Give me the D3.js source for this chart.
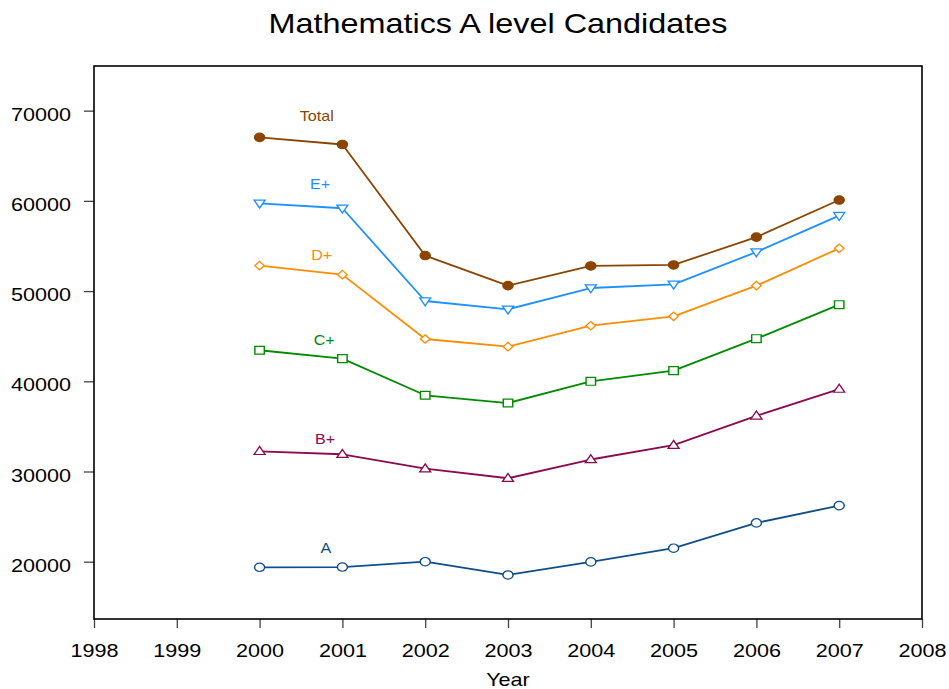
<!DOCTYPE html>
<html>
<head>
<meta charset="utf-8">
<script src="https://cdn.jsdelivr.net/npm/d3@7"></script>
<style>
  html, body { margin: 0; padding: 0; background: #fff; }
  svg { display: block; font-family: "Liberation Sans", Arial, sans-serif; }
</style>
</head>
<body>
<svg id="chart" width="949" height="689"></svg>
<script>
// ---- data ----
const years = [2000, 2001, 2002, 2003, 2004, 2005, 2006, 2007];
const seriesNames = ["Total", "E+", "D+", "C+", "B+", "A"];
const totalValues = [67036, 66247, 53940, 50602, 52788, 52897, 55982, 60093];
const ePlusValues = [59730, 59180, 48900, 47980, 50340, 50750, 54330, 58360];
const dPlusValues = [52820, 51820, 44690, 43840, 46160, 47200, 50600, 54740];
const cPlusValues = [43440, 42510, 38450, 37590, 40000, 41180, 44720, 48490];
const bPlusValues = [32240, 31910, 30310, 29250, 31330, 32920, 36170, 39140];
const aValues     = [19380, 19410, 20000, 18530, 19980, 21500, 24300, 26220];
const xTicks = [1998, 1999, 2000, 2001, 2002, 2003, 2004, 2005, 2006, 2007, 2008];
const yTicks = [20000, 30000, 40000, 50000, 60000, 70000];
// label anchors (year, value) for the series names
const labelYears  = [2000.69, 2000.73, 2000.75, 2000.78, 2000.79, 2000.80];
const labelValues = [68820, 61280, 53450, 43990, 33050, 21000];

// ---- styles ----
const colors = ["#8B4500", "#1E90FF", "#FF8C00", "#008B00", "#8B0A50", "#104E8B"];
const symbols = ["filledCircle", "triDown", "diamond", "square", "triUp", "circle"];
const SX = 1.2; // horizontal stretch of the original rendering

const series = seriesNames.map((name, i) => ({
  name,
  values: [totalValues, ePlusValues, dPlusValues, cPlusValues, bPlusValues, aValues][i],
  color: colors[i],
  symbol: symbols[i],
  labelYear: labelYears[i],
  labelValue: labelValues[i]
}));

const svg = d3.select("#chart");
const plotLeft = 94, plotRight = 922, plotTop = 66, plotBottom = 619;

const x = d3.scaleLinear().domain([1998, 2008]).range([plotLeft, plotRight]);
const y = d3.scaleLinear().domain([13650, 74950]).range([plotBottom, plotTop]);

// Title
svg.append("text")
  .attr("transform", `translate(498,33) scale(${SX},1)`)
  .attr("text-anchor", "middle")
  .attr("font-size", 27)
  .attr("fill", "#000")
  .text("Mathematics A level Candidates");

// Axes
const xAxis = svg.append("g")
  .attr("transform", `translate(0,${plotBottom})`)
  .call(d3.axisBottom(x).tickValues(xTicks).tickFormat(d3.format("d")).tickSize(9).tickSizeOuter(0));
xAxis.select(".domain").remove();
xAxis.selectAll(".tick line").attr("stroke", "#444").attr("stroke-width", 1.3);
xAxis.selectAll(".tick text")
  .attr("y", null).attr("dy", null)
  .attr("transform", `translate(0,37.7) scale(${SX},1)`)
  .attr("font-size", 18)
  .attr("fill", "#000");

const yAxis = svg.append("g")
  .attr("transform", `translate(${plotLeft},0)`)
  .call(d3.axisLeft(y).tickValues(yTicks).tickFormat(d3.format("d")).tickSize(10).tickSizeOuter(0));
yAxis.select(".domain").remove();
yAxis.selectAll(".tick line").attr("stroke", "#444").attr("stroke-width", 1.3);
yAxis.selectAll(".tick text")
  .attr("x", null).attr("dy", null)
  .attr("transform", `translate(-23,9.5) scale(${SX},1)`)
  .attr("text-anchor", "end")
  .attr("font-size", 18)
  .attr("fill", "#000");

// Frame
svg.append("rect")
  .attr("x", x(1998)).attr("y", y(74950))
  .attr("width", x(2008) - x(1998)).attr("height", y(13650) - y(74950))
  .attr("fill", "none").attr("stroke", "#000").attr("stroke-width", 1.6);

// X axis title
svg.append("text")
  .attr("transform", `translate(${(plotLeft + plotRight) / 2},686) scale(${SX},1)`)
  .attr("text-anchor", "middle")
  .attr("font-size", 18)
  .attr("fill", "#000")
  .text("Year");

// Lines
const line = d3.line().x((d, i) => x(years[i])).y(d => y(d));
const g = svg.append("g");
series.forEach(s => {
  g.append("path")
    .attr("d", line(s.values))
    .attr("fill", "none")
    .attr("stroke", s.color)
    .attr("stroke-width", 1.8)
    .attr("stroke-linejoin", "round");
});

// Markers
function markerPath(kind) {
  switch (kind) {
    case "filledCircle":
    case "circle": return d3.symbol().type(d3.symbolCircle).size(Math.PI * 4.2 * 4.2)();
    case "square": return d3.symbol().type(d3.symbolSquare).size(62)();
    case "diamond": return "M0,-4.2L4,0L0,4.2L-4,0Z";
    case "triUp": return "M0,-4.8L4.6,3.2L-4.6,3.2Z";
    case "triDown": return "M0,4.8L4.6,-3.2L-4.6,-3.2Z";
  }
}
series.forEach(s => {
  g.selectAll(null)
    .data(s.values)
    .enter()
    .append("path")
    .attr("d", markerPath(s.symbol))
    .attr("transform", (d, i) => `translate(${x(years[i])},${y(d)}) scale(${SX},1)`)
    .attr("fill", s.symbol === "filledCircle" ? s.color : "#fff")
    .attr("stroke", s.color)
    .attr("stroke-width", 1.2);
});

// Series labels
series.forEach(s => {
  svg.append("text")
    .attr("transform", `translate(${x(s.labelYear)},${y(s.labelValue)}) scale(1.15,1)`)
    .attr("text-anchor", "middle")
    .attr("font-size", 14)
    .attr("fill", s.color)
    .text(s.name);
});
</script>
</body>
</html>
